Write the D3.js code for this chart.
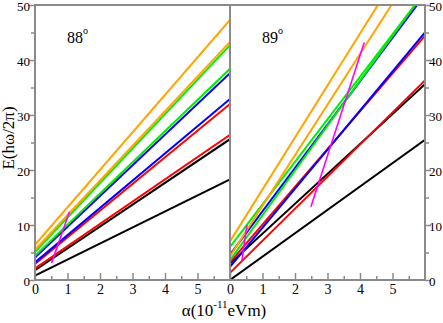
<!DOCTYPE html>
<html><head><meta charset="utf-8">
<script src="https://cdn.jsdelivr.net/npm/d3@7"></script>
<style>body{margin:0;background:#fff}svg{display:block}</style>
</head><body><svg id="c" width="443" height="323"></svg>
<script>
// ---- data ----
const xTicks = [0, 1, 2, 3, 4, 5];
const yTicks = [0, 10, 20, 30, 40, 50];
const panelLabels = ["88", "89"];
const lineColors = ["#ffa500", "#ffa500", "#00ee00", "#00ee00", "#0000ff", "#0000ff", "#ff0000", "#ff0000", "#000000", "#000000"];
// 88 degrees: [alpha, E] start and end points for each level
const lines88 = [
  [[0, 6.4], [6, 47.3]],
  [[0, 5.5], [6, 43.3]],
  [[0, 5.1], [6, 42.7]],
  [[0, 4.4], [6, 38.4]],
  [[0, 4.1], [6, 37.6]],
  [[0, 3.2], [6, 32.9]],
  [[0, 2.9], [6, 32.0]],
  [[0, 2.1], [6, 26.4]],
  [[0, 1.8], [6, 25.6]],
  [[0, 0.8], [6, 18.3]]
];
// 89 degrees
const lines89 = [
  [[0, 7.0], [4.55, 50]],
  [[0, 4.3], [4.97, 50]],
  [[0, 6.0], [5.69, 50]],
  [[0, 3.6], [5.69, 50]],
  [[0, 4.6], [5.76, 50]],
  [[0, 2.4], [6, 45.0]],
  [[0, 3.2], [6, 44.4]],
  [[0, 1.3], [6, 36.3]],
  [[0, 3.0], [6, 35.6]],
  [[0, 0.0], [6, 25.5]]
];
const magenta88 = [[[0.51, 3.1], [1.06, 12.4]]];
const magenta89 = [[[0.37, 3.6], [0.52, 10.0]], [[2.49, 13.3], [4.13, 43.2]]];

// ---- drawing ----
const FONT = "Liberation Serif, Times New Roman, DejaVu Serif, serif";
const svg = d3.select("#c");
const yTop = 5, yBottom = 280;
const panels = [
  {x0: 35, x1: 230, lines: lines88, mag: magenta88, label: panelLabels[0], yAxis: "left"},
  {x0: 230, x1: 425, lines: lines89, mag: magenta89, label: panelLabels[1], yAxis: "right"}
];
const y = d3.scaleLinear().domain([0, 50]).range([yBottom, yTop]);
const frameColor = "#8a8a8a";

panels.forEach((p, i) => {
  const x = d3.scaleLinear().domain([0, 6]).range([p.x0, p.x1]);
  const g = svg.append("g");
  const clipId = "clip" + i;
  svg.append("clipPath").attr("id", clipId).append("rect")
    .attr("x", p.x0).attr("y", yTop).attr("width", p.x1 - p.x0).attr("height", yBottom - yTop);
  const lg = g.append("g").attr("clip-path", `url(#${clipId})`);
  const line = d3.line().x(d => x(d[0])).y(d => y(d[1]));
  const levels = p.lines.map((pts, j) => ({pts, color: lineColors[j]})).reverse();
  lg.selectAll("path.lev").data(levels).join("path")
    .attr("d", d => line(d.pts)).attr("fill", "none")
    .attr("stroke", d => d.color).attr("stroke-width", 2);
  lg.selectAll("path.mag").data(p.mag).join("path")
    .attr("d", line).attr("fill", "none").attr("stroke", "#ff00ff").attr("stroke-width", 1.6);

  // bottom axis: ticks inward
  const xa = d3.axisBottom(x).tickValues(xTicks).tickSizeInner(-7).tickSizeOuter(0).tickFormat(d3.format("d"));
  const xg = g.append("g").attr("transform", `translate(0,${yBottom})`).call(xa);
  xg.select(".domain").remove();
  xg.selectAll(".tick line").attr("stroke", frameColor).attr("stroke-width", 1.5);
  xg.selectAll(".tick text").attr("y", 4).attr("dy", "0.71em").attr("font-size", 14)
    .attr("font-family", FONT).attr("fill", "#000");
  const xm = d3.axisBottom(x).tickValues(d3.range(0.5, 6, 1)).tickSize(-4).tickFormat("");
  const xmg = g.append("g").attr("transform", `translate(0,${yBottom})`).call(xm);
  xmg.select(".domain").remove();
  xmg.selectAll(".tick line").attr("stroke", frameColor).attr("stroke-width", 1.5);

  // y axis outward
  const isLeft = p.yAxis === "left";
  const ax = isLeft ? d3.axisLeft(y) : d3.axisRight(y);
  const ya = ax.tickValues(yTicks).tickSize(6).tickFormat(d3.format("d"));
  const yg = g.append("g").attr("transform", `translate(${isLeft ? p.x0 : p.x1},0)`).call(ya);
  yg.select(".domain").remove();
  yg.selectAll(".tick line").attr("stroke", frameColor).attr("stroke-width", 1.5);
  yg.selectAll(".tick text").attr("font-size", 13).attr("font-family", FONT).attr("fill", "#000")
    .attr("x", isLeft ? -5 : 4).attr("dy", "0.4em");
  const ym = (isLeft ? d3.axisLeft(y) : d3.axisRight(y)).tickValues([5, 15, 25, 35, 45]).tickSize(4).tickFormat("");
  const ymg = g.append("g").attr("transform", `translate(${isLeft ? p.x0 : p.x1},0)`).call(ym);
  ymg.select(".domain").remove();
  ymg.selectAll(".tick line").attr("stroke", frameColor).attr("stroke-width", 1.5);

  // frame
  g.append("rect").attr("x", p.x0).attr("y", yTop).attr("width", p.x1 - p.x0).attr("height", yBottom - yTop)
    .attr("fill", "none").attr("stroke", frameColor).attr("stroke-width", 2);

  // panel label
  const t = g.append("text").attr("x", p.x0 + 32).attr("y", 43).attr("font-size", 16)
    .attr("font-family", FONT).attr("fill", "#000");
  t.append("tspan").text(p.label);
  t.append("tspan").attr("font-size", 10).attr("dy", -9).text("o");
});

// axis titles
const xl = svg.append("text").attr("x", 224).attr("y", 316).attr("text-anchor", "middle")
  .attr("font-size", 17).attr("font-family", FONT);
xl.append("tspan").text("α(10");
xl.append("tspan").attr("font-size", 11).attr("dy", -8).text("-11");
xl.append("tspan").attr("dy", 8).text("eVm)");
svg.append("text").attr("transform", "translate(14,138) rotate(-90)").attr("text-anchor", "middle")
  .attr("font-size", 17).attr("font-family", FONT).text("E(hω/2π)");
</script></body></html>
